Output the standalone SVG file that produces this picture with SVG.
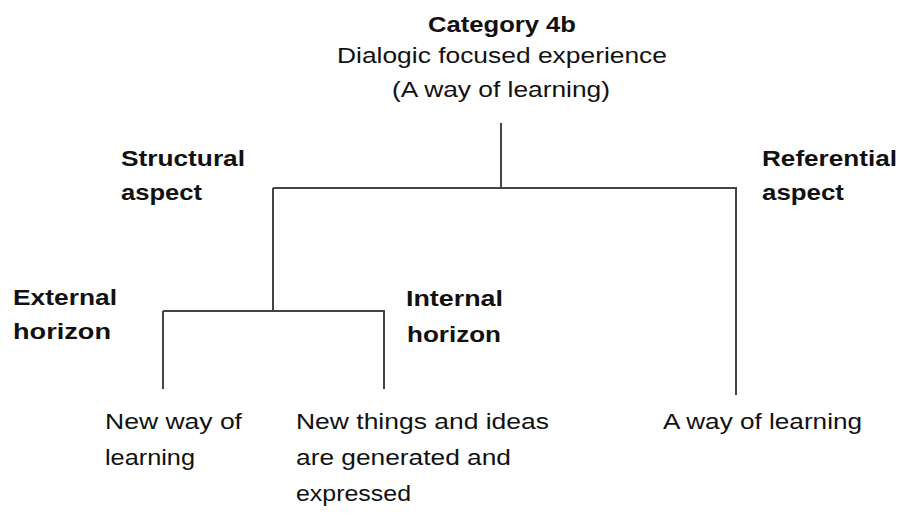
<svg xmlns="http://www.w3.org/2000/svg" width="904" height="514" viewBox="0 0 904 514">
<style>
text{font-family:"Liberation Sans",Arial,sans-serif;font-size:22px;fill:#111}
.b{font-weight:bold}
.c{stroke:#444;stroke-width:2;fill:none}
</style>
<rect width="904" height="514" fill="#fff"/>
<g id="root">
<text class="b" x="428" y="32" textLength="148" lengthAdjust="spacingAndGlyphs">Category 4b</text>
<text x="337" y="63" textLength="330" lengthAdjust="spacingAndGlyphs">Dialogic focused experience</text>
<text x="392" y="97" textLength="218" lengthAdjust="spacingAndGlyphs">(A way of learning)</text>
</g>
<g id="structural">
<text class="b" x="121" y="166" textLength="124" lengthAdjust="spacingAndGlyphs">Structural</text>
<text class="b" x="121" y="200" textLength="81" lengthAdjust="spacingAndGlyphs">aspect</text>
</g>
<g id="referential">
<text class="b" x="762" y="166" textLength="135" lengthAdjust="spacingAndGlyphs">Referential</text>
<text class="b" x="762" y="200" textLength="82" lengthAdjust="spacingAndGlyphs">aspect</text>
</g>
<g id="external">
<text class="b" x="13" y="305" textLength="104" lengthAdjust="spacingAndGlyphs">External</text>
<text class="b" x="13" y="339" textLength="98" lengthAdjust="spacingAndGlyphs">horizon</text>
</g>
<g id="internal">
<text class="b" x="406" y="306" textLength="97" lengthAdjust="spacingAndGlyphs">Internal</text>
<text class="b" x="407" y="342" textLength="94" lengthAdjust="spacingAndGlyphs">horizon</text>
</g>
<g id="newway">
<text x="105" y="429" textLength="137" lengthAdjust="spacingAndGlyphs">New way of</text>
<text x="105" y="465" textLength="90" lengthAdjust="spacingAndGlyphs">learning</text>
</g>
<g id="newthings">
<text x="296" y="429" textLength="253" lengthAdjust="spacingAndGlyphs">New things and ideas</text>
<text x="296" y="465" textLength="215" lengthAdjust="spacingAndGlyphs">are generated and</text>
<text x="296" y="501" textLength="115" lengthAdjust="spacingAndGlyphs">expressed</text>
</g>
<g id="away">
<text x="663" y="429" textLength="199" lengthAdjust="spacingAndGlyphs">A way of learning</text>
</g>
<g id="connectors">
<path class="c" d="M501 123V188M273 188H737M273 188V311M736 188V395M163 311H385M163 311V389M384 311V389"/>
</g>
</svg>
